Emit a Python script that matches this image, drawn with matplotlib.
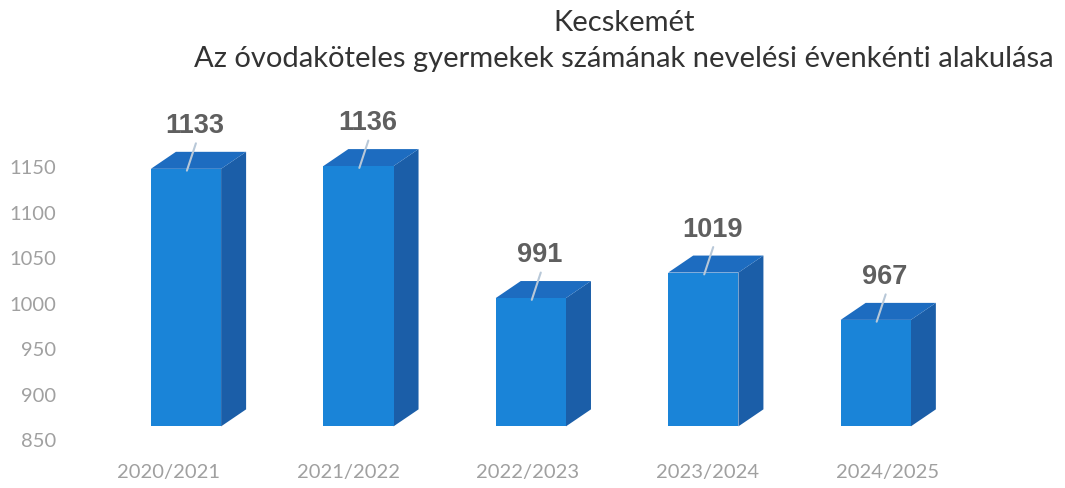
"""
Kecskemét - óvodaköteles gyermekek száma nevelési évenként
3D-hatású oszlopdiagram matplotlib-bel
"""

import matplotlib.pyplot as plt
from matplotlib.patches import Polygon

# adatok | data
categories = ["2020/2021", "2021/2022", "2022/2023", "2023/2024", "2024/2025"]
values = [1133, 1136, 991, 1019, 967]
y_ticks = [850, 900, 950, 1000, 1050, 1100, 1150]

title_line1 = "Kecskemét"
title_line2 = "Az óvodaköteles gyermekek számának nevelési évenkénti alakulása"

# színek | colours
front_color = "#1a84d8"
top_color = "#1d6cc0"
side_color = "#1b5ea8"
label_color = "#5f5f5f"
tick_color = "#a0a0a0"

plt.rcParams['font.family'] = ['Lato', 'DejaVu Sans']

fig = plt.figure(figsize=(10.65, 4.88), dpi=100)
W, H = 1065, 488

# tengely elhelyezése pixelben | axes placement in pixels
ax_left, ax_right = 80, 1050
ax_top, ax_bottom = 100, 440
ax = fig.add_axes([ax_left / W, (H - ax_bottom) / H,
                   (ax_right - ax_left) / W, (ax_bottom - ax_top) / H])

px_per_unit_y = 273 / 300.0
px_per_cat = 180.0
ax.set_ylim(850, 850 + (ax_bottom - ax_top) / px_per_unit_y)
ax.set_xlim((ax_left - 168) / px_per_cat, (ax_right - 168) / px_per_cat)

# 3D hatás paraméterei | 3D look parameters
base = y_ticks[0]
lift = 15            # az előlap megemelése
bar_w = 0.39
shift = 0.1
persp = 0.958        # az oszlopok kissé szorosabban állnak, mint a feliratok
dx = 25 / px_per_cat
dy = 17 / px_per_unit_y

for i, v in enumerate(values):
    c = shift + i * persp
    xl, xr = c - bar_w / 2, c + bar_w / 2
    y0, y1 = base + lift, v + lift
    # oldallap | side face
    ax.add_patch(Polygon([(xr, y0), (xr, y1), (xr + dx, y1 + dy), (xr + dx, y0 + dy)],
                         closed=True, facecolor=side_color, edgecolor="none"))
    # tetőlap | top face
    ax.add_patch(Polygon([(xl, y1), (xl + dx, y1 + dy), (xr + dx, y1 + dy), (xr, y1)],
                         closed=True, facecolor=top_color, edgecolor="none"))
    # előlap | front face
    ax.add_patch(Polygon([(xl, y0), (xl, y1), (xr, y1), (xr, y0)],
                         closed=True, facecolor=front_color, edgecolor="none"))
    # vezető vonal és címke | leader line and label
    ax.plot([c + 0.005, c + 0.055], [y1 - 2, y1 + 28], color="#b8c8d8", lw=1.5,
            solid_capstyle="round")
    ax.text(c + 0.05, y1 + 47, str(v), ha="center", va="center",
            fontsize=19.5, fontweight="bold", color=label_color,
            family=["Liberation Sans", "DejaVu Sans"])

ax.set_yticks(y_ticks)
ax.set_yticklabels([str(t) for t in y_ticks])
ax.set_xticks(range(len(categories)))
ax.set_xticklabels(categories)
ax.tick_params(axis="y", length=0, pad=17, labelsize=14.5, labelcolor=tick_color)
ax.tick_params(axis="x", length=0, pad=17, labelsize=14.5, labelcolor=tick_color)
for s in ax.spines.values():
    s.set_visible(False)

# cím | title
fig.text(624 / W, 1 - 31 / H, title_line1, ha="center", va="baseline",
         fontsize=21, color="#333333")
fig.text(624 / W, 1 - 67 / H, title_line2, ha="center", va="baseline",
         fontsize=21, color="#333333")

fig.savefig("out.png", dpi=100)
